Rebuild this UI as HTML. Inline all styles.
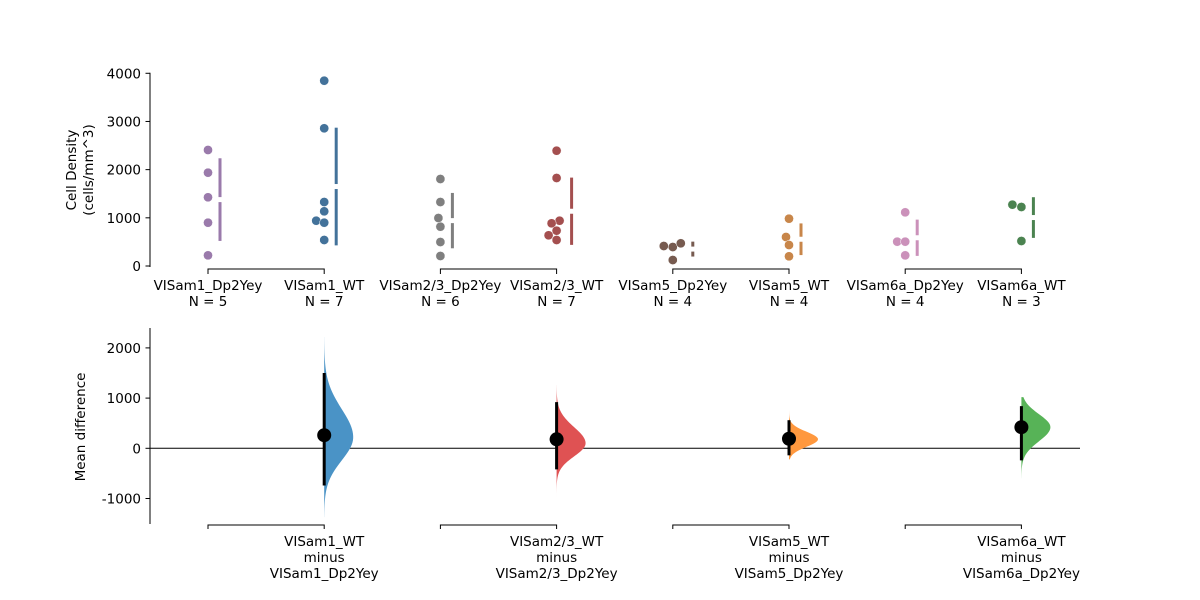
<!DOCTYPE html>
<html><head><meta charset="utf-8"><style>
html,body{margin:0;padding:0;background:#fff}
svg{display:block;font-family:"DejaVu Sans","Liberation Sans",sans-serif}
</style></head><body>
<svg id="chart" width="1200" height="600" viewBox="0 0 1200 600" xmlns="http://www.w3.org/2000/svg"></svg>
<script>
const groups = ["VISam1_Dp2Yey","VISam1_WT","VISam2/3_Dp2Yey","VISam2/3_WT","VISam5_Dp2Yey","VISam5_WT","VISam6a_Dp2Yey","VISam6a_WT"];
const groupValues = [
 [2408,1937,1426,899,221],
 [3846,2858,1328,1135,940,899,540],
 [1806,1328,996,816,498,208],
 [2393,1827,940,886,733,637,540],
 [415,394,471,124],
 [982,602,436,201],
 [1114,505,505,221],
 [1273,1225,519]
];
const jitter = [
 [0,0,0,0,0],[0,0,0,0,-8,0,0],[0,0,-2,0,0,0],[0,0,3,-5,0,-8,0],[-9,0,8,0],[0,-3,0,0],[0,-8,0,0],[-9,0,0]
];
const barOffset = [12,12,12,15,20,12,12,12];
const dotColors = ["#9a7aab","#43729a","#7f7f7f","#a44f4f","#775b50","#c8864a","#cb91ba","#4b8350"];
const topTicks = [0,1000,2000,3000,4000];
const diffLabels = [["VISam1_WT","minus","VISam1_Dp2Yey"],["VISam2/3_WT","minus","VISam2/3_Dp2Yey"],["VISam5_WT","minus","VISam5_Dp2Yey"],["VISam6a_WT","minus","VISam6a_Dp2Yey"]];
const diffMean = [261,180,190,420];
const ciLow = [-740,-420,-140,-240];
const ciHigh = [1500,920,560,840];
const violPeak = [220,100,180,420];
const violSdUp = [560,320,150,260];
const violSdDown = [460,260,150,280];
const violMin = [-1370,-1040,-220,-600];
const violMax = [2220,1260,760,1020];
const violColors = ["#4a93c6","#df5253","#ff983e","#57b357"];
const bottomTicks = [-1000,0,1000,2000];

const svg = document.getElementById('chart');
const NS = "http://www.w3.org/2000/svg";
const FS = 13.5;
function mk(tag, attrs, parent){const e=document.createElementNS(NS,tag);for(const k in attrs)e.setAttribute(k,attrs[k]);(parent||svg).appendChild(e);return e;}
const xPos = i => 208 + i*116.2;
const yTop = v => 266 - v*0.04818;
const yBot = v => 448.3 - v*0.0502;

const topAx = mk('g',{});


mk('line',{x1:150,y1:yTop(4000)-0.5,x2:150,y2:yTop(0)+1,stroke:'#000','stroke-width':1},topAx);
topTicks.forEach(t=>{
  mk('line',{x1:145.5,x2:150,y1:yTop(t),y2:yTop(t),stroke:'#000'},topAx);
  const tx=mk('text',{x:141,y:yTop(t)+5,'text-anchor':'end','font-size':FS},topAx);tx.textContent=t;
});
const yt1=mk('text',{transform:'translate(84,170) rotate(-90)','text-anchor':'middle','font-size':FS});


yt1.innerHTML='<tspan x="0" dy="-8">Cell Density</tspan><tspan x="0" dy="17">(cells/mm^3)</tspan>';

for(let p=0;p<4;p++){
  const a=xPos(2*p),b=xPos(2*p+1);
  const br=mk('path',{d:`M${a},274 V269 H${b} V274`,fill:'none',stroke:'#000'});
  
  
}
groups.forEach((g,i)=>{
  const lbl=mk('text',{x:xPos(i),y:290,'text-anchor':'middle','font-size':FS});
  
  
  lbl.innerHTML=`<tspan x="${xPos(i)}">${g}</tspan><tspan x="${xPos(i)}" dy="16">N = ${groupValues[i].length}</tspan>`;
  groupValues[i].forEach((v,j)=>{
    const c=mk('circle',{cx:xPos(i)+jitter[i][j],cy:yTop(v),r:4.6,fill:dotColors[i],stroke:'#fff','stroke-width':0.5});
    
    
  });
  const vals=groupValues[i],n=vals.length;
  const m=vals.reduce((a,b)=>a+b,0)/n;
  const sd=Math.sqrt(vals.reduce((a,b)=>a+(b-m)*(b-m),0)/(n-1));
  const lx=xPos(i)+barOffset[i];
  const l1=mk('line',{x1:lx,x2:lx,y1:yTop(m+sd),y2:yTop(m)-2.5,stroke:dotColors[i],'stroke-width':3});
  
  
  const l2=mk('line',{x1:lx,x2:lx,y1:yTop(m)+2.5,y2:yTop(Math.max(m-sd,-100)),stroke:dotColors[i],'stroke-width':3});
  
  
});

const botAx=mk('g',{});


mk('line',{x1:150,y1:328,x2:150,y2:524,stroke:'#000'},botAx);
bottomTicks.forEach(t=>{
  mk('line',{x1:145.5,x2:150,y1:yBot(t),y2:yBot(t),stroke:'#000'},botAx);
  const tx=mk('text',{x:141,y:yBot(t)+5,'text-anchor':'end','font-size':FS},botAx);tx.textContent=t;
});
const yt2=mk('text',{transform:'translate(85,427) rotate(-90)','text-anchor':'middle','font-size':FS});


yt2.textContent='Mean difference';
const zl=mk('line',{x1:150,x2:1080,y1:yBot(0),y2:yBot(0),stroke:'#000','stroke-width':1});



for(let p=0;p<4;p++){
  const a=xPos(2*p),b=xPos(2*p+1);
  const br=mk('path',{d:`M${a},529 V525 H${b} V529`,fill:'none',stroke:'#000'});
  
  
  const lbl=mk('text',{x:b,y:546,'text-anchor':'middle','font-size':FS});
  
  
  lbl.innerHTML=diffLabels[p].map((s,k)=>`<tspan x="${b}" dy="${k?16:0}">${s}</tspan>`).join('');
  let d=`M${b},${yBot(violMax[p])}`;
  const steps=80;
  for(let s=0;s<=steps;s++){
    const v=violMax[p]-(violMax[p]-violMin[p])*s/steps;
    const sdv=v>violPeak[p]?violSdUp[p]:violSdDown[p];
    const w=29*Math.exp(-0.5*Math.pow((v-violPeak[p])/sdv,2));
    d+=` L${b+w},${yBot(v)}`;
  }
  d+=` L${b},${yBot(violMin[p])} Z`;
  const vi=mk('path',{d:d,fill:violColors[p]});
  
  
  const ci=mk('line',{x1:b,x2:b,y1:yBot(ciHigh[p]),y2:yBot(ciLow[p]),stroke:'#000','stroke-width':3});
  
  
  const dot=mk('circle',{cx:b,cy:yBot(diffMean[p]),r:7,fill:'#000'});
  
  
}
</script>
</body></html>
